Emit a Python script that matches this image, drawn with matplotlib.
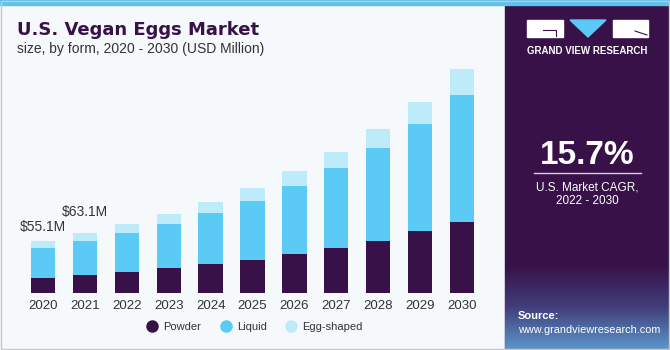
import matplotlib
matplotlib.use("Agg")
import matplotlib.pyplot as plt
import numpy as np
from matplotlib.patches import Rectangle, Polygon
from matplotlib.lines import Line2D

plt.rcParams["font.family"] = ["Liberation Sans", "DejaVu Sans"]

years = ["2020", "2021", "2022", "2023", "2024", "2025",
         "2026", "2027", "2028", "2029", "2030"]
powder = [16.2, 19.2, 22.3, 26.5, 30.7, 35.0, 41.0, 48.0, 55.1, 65.4, 74.9]
liquid = [31.3, 36.4, 41.3, 47.0, 54.4, 62.9, 72.7, 84.2, 98.9, 114.1, 134.6]
egg_shaped = [7.6, 7.5, 9.2, 10.6, 11.3, 13.5, 15.9, 17.6, 19.8, 23.0, 27.6]
labels = {0: "$55.1M", 1: "$63.1M"}

C_POWDER = "#381149"
C_LIQUID = "#5BCBF5"
C_EGG = "#BDEBFA"
C_BG = "#F5F9FC"
C_PANEL = "#381149"

W, H = 670, 350
fig = plt.figure(figsize=(W / 100, H / 100), dpi=100)
fig.patch.set_facecolor(C_BG)

# background decoration in pixel coords
bg = fig.add_axes([0, 0, 1, 1])
bg.axis("off")
bg.add_patch(Rectangle((505, 0), W - 505, H, color=C_PANEL, zorder=1))
grad = np.linspace(0, 1, 100)[:, None]
cmap = matplotlib.colors.LinearSegmentedColormap.from_list("g", [C_PANEL, "#423F7C", "#5B97CC"])
bg.imshow(grad, extent=(505, W, H, 265), cmap=cmap, aspect="auto", zorder=2,
          origin="upper")
bg.set_xlim(0, W)
bg.set_ylim(H, 0)
bg.add_patch(Rectangle((0, 0), W, 5, color="#5BC3EE", zorder=3))
bg.add_patch(Rectangle((0.5, 0.5), W - 1.5, H - 1.5, fill=False, ec="#C8C8C8", lw=1, zorder=4))

# logo
bg.add_patch(Rectangle((527, 20), 36, 17, color="white", zorder=5))
bg.add_patch(Polygon([(570, 20), (606, 20), (588, 37)], color="#5BC8F5", zorder=5))
bg.add_patch(Rectangle((613, 20), 35, 17, color="white", zorder=5))
bg.plot([543, 556, 556], [30, 30, 36], color=C_PANEL, lw=0.8, zorder=6)
bg.plot([635, 647], [31, 35], color=C_PANEL, lw=0.8, zorder=6)
bg.text(587.5, 51, "GRAND VIEW RESEARCH", color="white", fontsize=7, fontweight="bold",
        ha="center", va="center", zorder=6)

bg.text(587, 156, "15.7%", color="white", fontsize=24, fontweight="bold",
        ha="center", va="center", zorder=6)
bg.plot([534, 641], [173, 173], color="#D8D0DE", lw=1, zorder=6)
bg.text(587, 187, "U.S. Market CAGR,", color="white", fontsize=8.5, ha="center", va="center", zorder=6)
bg.text(587, 201, "2022 - 2030", color="white", fontsize=8.5, ha="center", va="center", zorder=6)
bg.text(518, 316, "Source:", color="white", fontsize=8, fontweight="bold",
        ha="left", va="center", zorder=6)
bg.text(518, 330, "www.grandviewresearch.com", color="white", fontsize=7.8,
        ha="left", va="center", zorder=6)

bg.text(17, 35, "U.S. Vegan Eggs Market", color=C_POWDER, fontsize=13, fontweight="bold",
        family="DejaVu Sans", ha="left", va="baseline", zorder=6)
bg.text(17, 53, "size, by form, 2020 - 2030 (USD Million)", color="#333333", fontsize=10,
        ha="left", va="baseline", zorder=6)

# chart
base_px, top_px = 293, 60
scale = 1.06
ax = fig.add_axes([0, (H - base_px) / H, 505 / W, (base_px - top_px) / H])
ax.patch.set_alpha(0)
x = np.arange(len(years))
ax.set_xlim((0 - 43) / 41.9, (505 - 43) / 41.9)
ax.set_ylim(0, (base_px - top_px) * scale)
w = 0.58
ax.bar(x, powder, w, color=C_POWDER, label="Powder")
ax.bar(x, liquid, w, bottom=powder, color=C_LIQUID, label="Liquid")
bot2 = np.array(powder) + np.array(liquid)
ax.bar(x, egg_shaped, w, bottom=bot2, color=C_EGG, label="Egg-shaped")
totals = bot2 + np.array(egg_shaped)
offsets = {0: 15, 1: 23}
for i, t in labels.items():
    ax.text(x[i], totals[i] + offsets[i], t, ha="center", va="center", fontsize=10, color="#333333")

ax.set_xticks(x)
ax.set_xticklabels(years, fontsize=9.5, color="#333333")
ax.tick_params(axis="x", length=0, pad=5)
ax.set_yticks([])
for s in ax.spines.values():
    s.set_visible(False)

handles = [Line2D([], [], marker="o", ls="", ms=8, color=c) for c in (C_POWDER, C_LIQUID, C_EGG)]
fig.legend(handles, ["Powder", "Liquid", "Egg-shaped"], loc="center",
           bbox_to_anchor=(252 / W, 1 - 327 / H), ncol=3, frameon=False, fontsize=8,
           handlelength=2, handletextpad=0.0, columnspacing=1.2, labelcolor="#333333")

fig.savefig("out.png", dpi=100, facecolor=fig.get_facecolor())
